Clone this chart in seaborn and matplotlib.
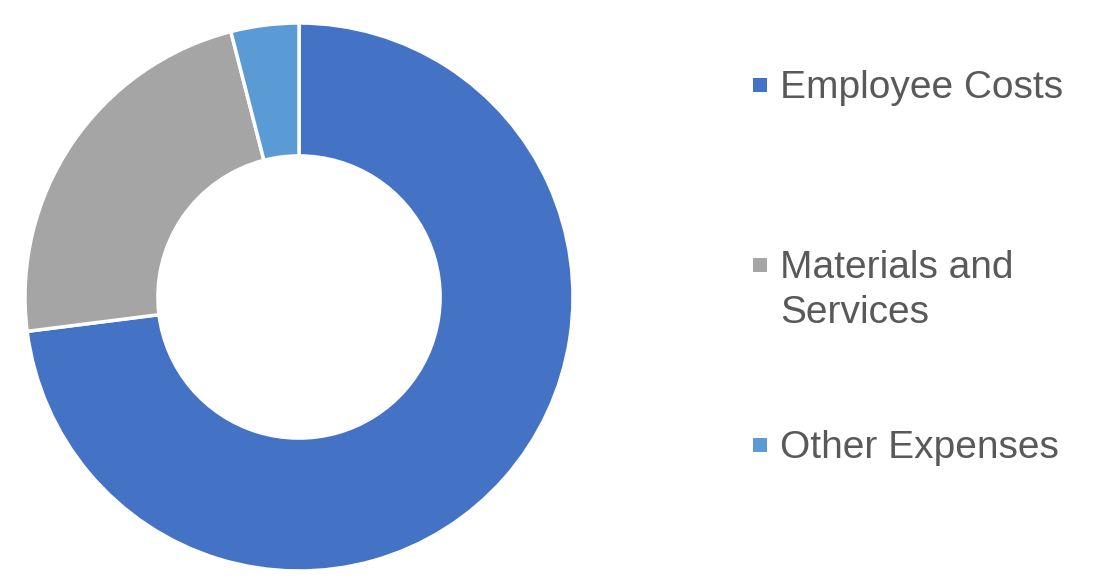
import matplotlib
matplotlib.use("Agg")
import matplotlib.pyplot as plt
import seaborn as sns
from matplotlib.patches import Rectangle

# ============================================================
# DATA
# ============================================================

labels = ["Employee Costs", "Materials and\nServices", "Other Expenses"]
shares = [73.0, 23.0, 4.0]
colors = ["#4472C4", "#A5A5A5", "#5B9BD5"]

# ============================================================
# SETUP
# ============================================================

sns.set_theme(style="white")
plt.rcParams["font.family"] = ["Liberation Sans", "DejaVu Sans"]

W, H = 1105, 578
fig = plt.figure(figsize=(W / 100, H / 100), dpi=100)
fig.patch.set_facecolor("white")

# donut: centre (299, 297) px, radius 274 px
cx, cy, r = 299, 297, 274
ax = fig.add_axes([(cx - r) / W, (H - cy - r) / H, 2 * r / W, 2 * r / H])

ax.pie(
    shares,
    colors=colors,
    startangle=90,
    counterclock=False,
    radius=1.0,
    wedgeprops=dict(width=0.485, edgecolor="white", linewidth=2.5),
)
ax.set_xlim(-1, 1)
ax.set_ylim(-1, 1)
ax.set_aspect("equal")
ax.axis("off")

# ============================================================
# LEGEND (right side)
# ============================================================

sq = 14
for i, (lab, col) in enumerate(zip(labels, colors)):
    yc = 85 + 180 * i  # centre of first text line, px from top
    fig.patches.append(Rectangle((753 / W, (H - yc - sq / 2) / H), sq / W, sq / H,
                                 transform=fig.transFigure, facecolor=col,
                                 edgecolor="none"))
    fig.text(780 / W, (H - yc + 15) / H, lab, fontsize=28, color="#595959",
             ha="left", va="top", linespacing=1.32)

fig.savefig("out.png", dpi=100, facecolor="white")
